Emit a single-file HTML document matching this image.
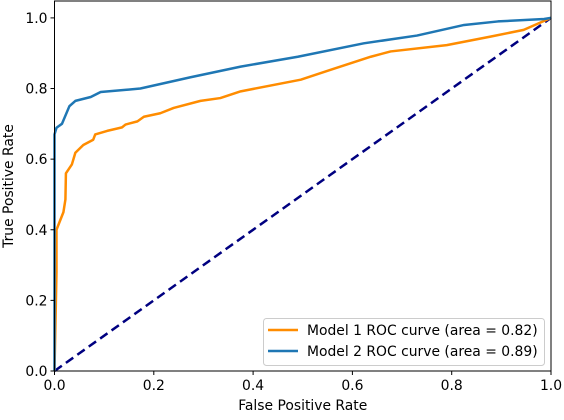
<!DOCTYPE html>
<html><head><meta charset="utf-8"><style>
body{margin:0;background:#fff}
svg text{font-family:"DejaVu Sans","Liberation Sans",sans-serif;font-size:13.9px;fill:#000}
</style></head><body>
<svg width="564" height="415" viewBox="0 0 564 415" id="chart"></svg>
<script>
const fpr1=[0,0.004,0.004,0.018,0.022,0.023,0.035,0.042,0.058,0.078,0.082,0.106,0.136,0.143,0.167,0.18,0.213,0.24,0.294,0.334,0.375,0.496,0.556,0.637,0.677,0.79,0.878,0.945,1];
const tpr1=[0,0.28,0.40,0.45,0.486,0.56,0.585,0.618,0.64,0.655,0.67,0.68,0.69,0.698,0.707,0.72,0.73,0.745,0.765,0.773,0.792,0.825,0.853,0.89,0.905,0.923,0.947,0.966,1];
const fpr2=[0,0,0.004,0.015,0.03,0.042,0.073,0.093,0.173,0.274,0.375,0.49,0.623,0.73,0.825,0.893,0.986,1];
const tpr2=[0,0.67,0.689,0.70,0.75,0.765,0.776,0.79,0.80,0.832,0.862,0.89,0.928,0.95,0.98,0.99,0.997,1];
const ticks=[0,0.2,0.4,0.6,0.8,1.0];
const tickLabels=["0.0","0.2","0.4","0.6","0.8","1.0"];
const legendLabels=["Model 1 ROC curve (area = 0.82)","Model 2 ROC curve (area = 0.89)"];
const X0=54.5,X1=551,Y0=371,Y1=17.9;
const sx=v=>X0+v*(X1-X0);
const sy=v=>Y0-v*(Y0-Y1)/1;
const svg=document.getElementById('chart');
const NS='http://www.w3.org/2000/svg';
function mk(t,a){const e=document.createElementNS(NS,t);for(const k in a)e.setAttribute(k,a[k]);svg.appendChild(e);return e;}
function line(xs,ys,color,w,name,dash){
  const e=mk('polyline',{points:xs.map((x,i)=>sx(x)+','+sy(ys[i])).join(' '),fill:'none',stroke:color,'stroke-width':w,'stroke-linejoin':'round'});
  if(dash)e.setAttribute('stroke-dasharray',dash);
  
  
}
line([0,1],[0,1],'#000080',2.5,'chance-diagonal','9,5');
line(fpr1,tpr1,'#ff8c00',2.5,'model-1-roc-curve');
line(fpr2,tpr2,'#1f77b4',2.5,'model-2-roc-curve');
const fr=mk('rect',{x:X0,y:1,width:X1-X0,height:Y0-1,fill:'none',stroke:'#000','stroke-width':1});


ticks.forEach((t,i)=>{
  mk('line',{x1:sx(t),x2:sx(t),y1:Y0,y2:Y0+4,stroke:'#000'});
  const tx=mk('text',{x:sx(t),y:Y0+19,'text-anchor':'middle'});tx.textContent=tickLabels[i];
  
  
  mk('line',{x1:X0-4,x2:X0,y1:sy(t),y2:sy(t),stroke:'#000'});
  const ty=mk('text',{x:X0-7,y:sy(t)+5,'text-anchor':'end'});ty.textContent=tickLabels[i];
  
  
});
const xt=mk('text',{x:(X0+X1)/2,y:410,'text-anchor':'middle'});xt.textContent='False Positive Rate';


const yt=mk('text',{x:13,y:(Y0+1)/2,'text-anchor':'middle',transform:'rotate(-90 13 '+((Y0+1)/2)+')'});yt.textContent='True Positive Rate';


const lg=mk('rect',{x:263.5,y:318.5,width:281,height:47,rx:3,fill:'#fff','fill-opacity':0.8,stroke:'#ccc'});


['#ff8c00','#1f77b4'].forEach((c,i)=>{
  const y=330+i*21;
  mk('line',{x1:268,x2:298,y1:y,y2:y,stroke:c,'stroke-width':2.5});
  const t=mk('text',{x:307,y:y+5});t.textContent=legendLabels[i];
  
  
});
</script>
</body></html>
